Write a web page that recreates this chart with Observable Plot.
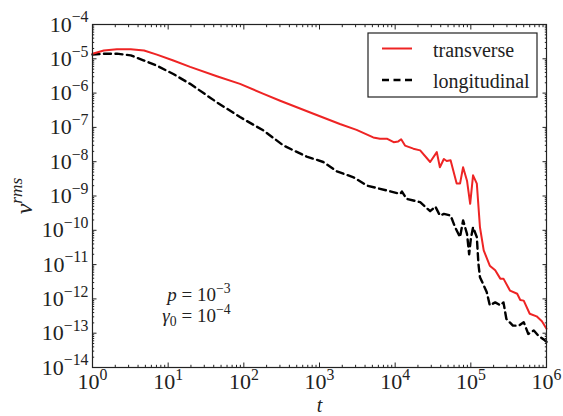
<!DOCTYPE html>
<html><head><meta charset="utf-8">
<script src="https://cdn.jsdelivr.net/npm/d3@7"></script>
<script src="https://cdn.jsdelivr.net/npm/@observablehq/plot@0.6"></script>
<style>body{margin:0;background:#fff}</style>
</head><body><div id="chart"></div>
<script>
// ---- data ----
const seriesNames = ["transverse", "longitudinal"];
const transT = [1, 1.41, 2.1, 3.2, 4.8, 7.1, 11.7, 19.5, 44, 89, 182, 302, 832, 1860, 3090, 5130, 6300, 7760, 9550,
  1.1e4, 1.2e4, 1.35e4, 1.74e4, 2.14e4, 2.9e4, 3.55e4, 3.9e4, 4.4e4, 4.8e4, 5.4e4, 6.5e4, 7.2e4, 7.9e4, 8.9e4, 9.8e4,
  1.07e5, 1.2e5, 1.32e5, 1.48e5, 1.78e5, 2.1e5, 2.45e5, 2.7e5, 3.3e5, 4.1e5, 4.5e5, 5.0e5, 6.0e5, 7.4e5, 8.7e5, 1e6];
const transV = [1.4e-5, 1.74e-5, 1.9e-5, 1.9e-5, 1.74e-5, 1.32e-5, 8.9e-6, 5.8e-6, 3.1e-6, 1.86e-6, 9.5e-7, 6.0e-7, 2.5e-7, 1.26e-7, 8.5e-8, 5.1e-8, 4.7e-8, 4.7e-8, 3.7e-8,
  3.9e-8, 4.5e-8, 2.95e-8, 2.4e-8, 2.14e-8, 9.8e-9, 1.9e-8, 6.9e-9, 1.2e-8, 1.05e-8, 1.1e-8, 2.3e-9, 2.3e-9, 6.9e-9, 2.8e-9, 5.9e-10,
  4.0e-9, 2.3e-9, 1.23e-10, 2.6e-11, 9.3e-12, 6.8e-12, 3.9e-12, 3.9e-12, 1.74e-12, 1.41e-12, 9.3e-13, 8.9e-13, 3.7e-13, 3.1e-13, 2.24e-13, 1.35e-13];
const longT = [1, 1.41, 2.1, 3.2, 4.8, 7.1, 11.7, 19.5, 44, 89, 182, 335, 676, 1120, 1700, 2820, 4270, 7760,
  1.17e4, 1.23e4, 1.41e4, 1.74e4, 2.14e4, 2.9e4, 3.4e4, 3.9e4, 4.4e4, 5.4e4, 6.2e4, 7.2e4, 7.9e4, 8.9e4, 9.5e4, 1.0e5,
  1.07e5, 1.2e5, 1.26e5, 1.32e5, 1.62e5, 1.78e5, 2.1e5, 2.45e5, 2.7e5, 2.95e5, 3.6e5, 4.3e5, 5.0e5, 5.75e5, 6.8e5, 7.8e5, 9.5e5, 1e6];
const longV = [1.32e-5, 1.41e-5, 1.41e-5, 1.26e-5, 8.9e-6, 6.3e-6, 3.6e-6, 1.86e-6, 5.4e-7, 2.0e-7, 8.1e-8, 2.95e-8, 1.41e-8, 9.8e-9, 5.2e-9, 3.5e-9, 2.0e-9, 1.45e-9,
  1.15e-9, 1.35e-9, 8.3e-10, 7.4e-10, 6.6e-10, 3.6e-10, 4.9e-10, 2.7e-10, 3.0e-10, 2.7e-10, 1.23e-10, 6.3e-11, 1.95e-10, 7.9e-11, 2.0e-11, 5.6e-11,
  1.23e-10, 6.3e-11, 1.05e-11, 4.3e-12, 1.6e-12, 6.5e-13, 7.9e-13, 6.5e-13, 7.9e-13, 2.6e-13, 1.66e-13, 1.66e-13, 2.1e-13, 9.5e-14, 1.2e-13, 8.5e-14, 6.2e-14, 5.6e-14];

const xTicks = [1, 1e1, 1e2, 1e3, 1e4, 1e5, 1e6];
const xTickLabels = ["10^{0}", "10^{1}", "10^{2}", "10^{3}", "10^{4}", "10^{5}", "10^{6}"];
const yTicks = [1e-14, 1e-13, 1e-12, 1e-11, 1e-10, 1e-9, 1e-8, 1e-7, 1e-6, 1e-5, 1e-4];
const yTickLabels = ["10^{−14}", "10^{−13}", "10^{−12}", "10^{−11}", "10^{−10}", "10^{−9}", "10^{−8}", "10^{−7}", "10^{−6}", "10^{−5}", "10^{−4}"];
const xLabel = "*t*";
const yLabel = "*v*^{*rms*}";
const annotations = ["*p* = 10^{−3}", "*γ*_{0} = 10^{−4}"];
const colors = ["#ee2424", "#000000"];

// minor tick positions (2..9 × each decade)
const xMinor = [], yMinor = [];
for (let k = 0; k < 6; k++) for (let m = 2; m <= 9; m++) xMinor.push(m * Math.pow(10, k));
for (let k = -14; k < -4; k++) for (let m = 2; m <= 9; m++) yMinor.push(m * Math.pow(10, k));

const rows = [
  ...transT.map((t, i) => ({series: seriesNames[0], t, v: transV[i]})),
  ...longT.map((t, i) => ({series: seriesNames[1], t, v: longV[i]}))
];
const fmtX = d => xTickLabels[xTicks.findIndex(t => Math.abs(Math.log10(t) - Math.log10(d)) < 1e-6)];
const fmtY = d => yTickLabels[yTicks.findIndex(t => Math.abs(Math.log10(t) - Math.log10(d)) < 1e-6)];
const blank = () => "";
const FRAME = "#222";
const FONT = "Liberation Serif";

const chart = Plot.plot({
  width: 563, height: 416,
  marginLeft: 92, marginRight: 17, marginTop: 24, marginBottom: 49,
  style: {fontSize: "22px", color: "#222", background: "#fff", overflow: "visible"},
  x: {type: "log", domain: [1, 1e6]},
  y: {type: "log", domain: [1e-14, 1e-4]},
  marks: [
    Plot.line(rows.filter(d => d.series === seriesNames[1]), {x: "t", y: "v", stroke: colors[1], strokeWidth: 2.4, strokeDasharray: "7,4.5"}),
    Plot.line(rows.filter(d => d.series === seriesNames[0]), {x: "t", y: "v", stroke: colors[0], strokeWidth: 2}),
    // tick labels
    Plot.axisX({ticks: xTicks, tickSize: 0, tickPadding: 6, tickFormat: fmtX, label: null, fontSize: 22}),
    Plot.axisY({ticks: yTicks, tickSize: 0, tickPadding: 4, tickFormat: fmtY, label: null, fontSize: 22}),
    // inward ticks on all four sides
    Plot.axisX({anchor: "bottom", ticks: xTicks, tickSize: -4.5, tickFormat: blank, label: null, stroke: FRAME}),
    Plot.axisX({anchor: "bottom", ticks: xMinor, tickSize: -2.2, tickFormat: blank, label: null, stroke: FRAME}),
    Plot.axisX({anchor: "top", ticks: xTicks, tickSize: -4.5, tickFormat: blank, label: null, stroke: FRAME}),
    Plot.axisX({anchor: "top", ticks: xMinor, tickSize: -2.2, tickFormat: blank, label: null, stroke: FRAME}),
    Plot.axisY({anchor: "left", ticks: yTicks, tickSize: -4.5, tickFormat: blank, label: null, stroke: FRAME}),
    Plot.axisY({anchor: "left", ticks: yMinor, tickSize: -2.2, tickFormat: blank, label: null, stroke: FRAME}),
    Plot.axisY({anchor: "right", ticks: yTicks, tickSize: -4.5, tickFormat: blank, label: null, stroke: FRAME}),
    Plot.axisY({anchor: "right", ticks: yMinor, tickSize: -2.2, tickFormat: blank, label: null, stroke: FRAME}),
    Plot.frame({stroke: FRAME, strokeWidth: 1.2}),
    // axis labels
    Plot.text([xLabel], {frameAnchor: "bottom", dy: 38, lineAnchor: "middle", fontSize: 20, fill: "#222"}),
    Plot.text([yLabel], {frameAnchor: "left", dx: -68, rotate: -90, textAnchor: "middle", lineAnchor: "middle", fontSize: 24, fill: "#222"}),
    // annotations
    Plot.text([annotations[0]], {frameAnchor: "top-left", dx: 138, dy: 270, textAnchor: "end", lineAnchor: "middle", fontSize: 19, fill: "#222"}),
    Plot.text([annotations[1]], {frameAnchor: "top-left", dx: 138, dy: 291, textAnchor: "end", lineAnchor: "middle", fontSize: 19, fill: "#222"})
  ]
});
document.getElementById("chart").appendChild(chart);

// ---- rich text: ^{sup}, _{sub}, *italic* ----
function rich(textEl) {
  const s = textEl.textContent;
  if (!/[\^_]\{|\*/.test(s)) return;
  const fs = parseFloat(getComputedStyle(textEl).fontSize) || 20;
  const parts = s.split(/(\^\{[^}]*\}|_\{[^}]*\}|\*[^*]*\*)/).filter(p => p);
  while (textEl.firstChild) textEl.removeChild(textEl.firstChild);
  let off = 0;
  for (const p of parts) {
    let txt = p, target = 0, size = null, italic = false;
    if (p.startsWith("^{")) { txt = p.slice(2, -1); target = -0.42 * fs; size = 0.72 * fs; }
    else if (p.startsWith("_{")) { txt = p.slice(2, -1); target = 0.22 * fs; size = 0.72 * fs; }
    else if (p.startsWith("*")) { txt = p.slice(1, -1); italic = true; }
    const inner = txt.split(/(\*[^*]*\*)/).filter(q => q);
    for (const q of inner) {
      const ts = document.createElementNS("http://www.w3.org/2000/svg", "tspan");
      const it = italic || q.startsWith("*");
      ts.textContent = q.startsWith("*") ? q.slice(1, -1) : q;
      if (target !== off) { ts.setAttribute("dy", (target - off).toFixed(2)); off = target; }
      if (size) ts.setAttribute("font-size", size.toFixed(1));
      if (it) ts.setAttribute("font-style", "italic");
      textEl.appendChild(ts);
    }
  }
}
chart.querySelectorAll("text").forEach(rich);

// ---- legend ----
const svg = d3.select(chart);
const lg = svg.append("g").attr("font-size", 20).attr("fill", "#222").attr("text-anchor", "start");
lg.append("rect").attr("x", 368).attr("y", 33).attr("width", 169).attr("height", 64)
  .attr("fill", "#fff").attr("stroke", FRAME).attr("stroke-width", 1.2);
const legendRows = [{name: seriesNames[0], y: 48.5, color: colors[0], dash: null, w: 2},
                    {name: seriesNames[1], y: 80, color: colors[1], dash: "7,4.5", w: 2.4}];
for (const r of legendRows) {
  lg.append("line").attr("x1", 382).attr("x2", 412).attr("y1", r.y).attr("y2", r.y)
    .attr("stroke", r.color).attr("stroke-width", r.w).attr("stroke-dasharray", r.dash);
  lg.append("text").attr("x", 433).attr("y", r.y + 8).text(r.name);
}
chart.querySelectorAll("text").forEach(t => { t.style.fontFamily = `"${FONT}", serif`; });
</script>
</body></html>
